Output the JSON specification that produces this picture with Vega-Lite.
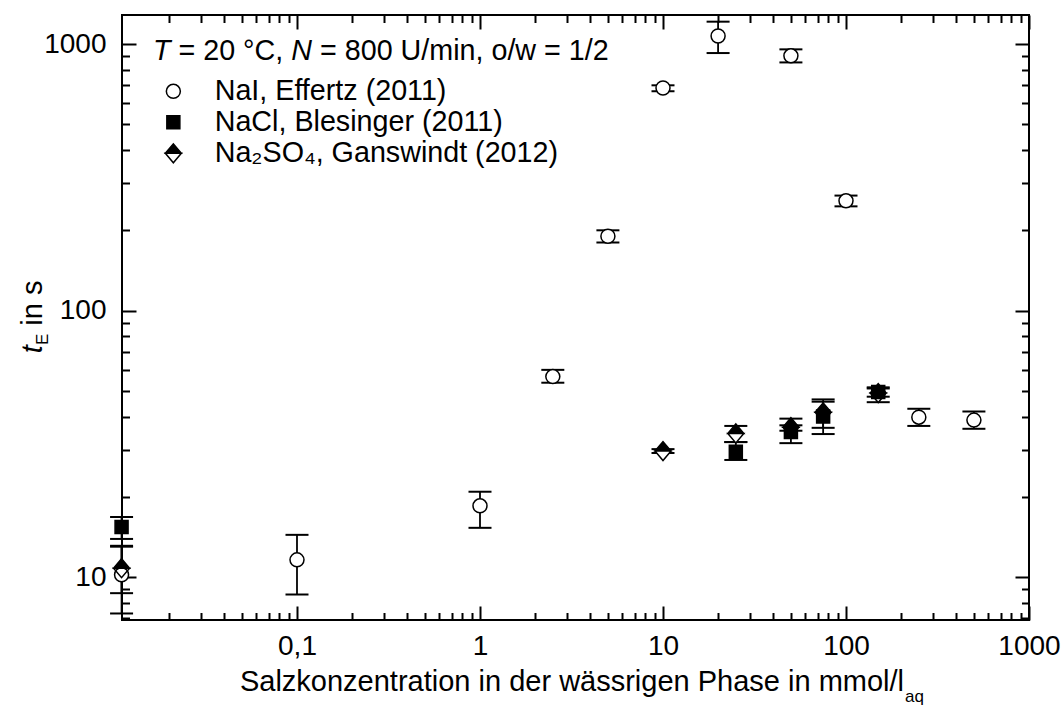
{
 "$schema": "https://vega.github.io/schema/vega-lite/v6.json",
 "width": 907,
 "height": 605,
 "autosize": {"type": "none"},
 "padding": {"left": 122, "top": 15, "right": 34, "bottom": 89},
 "background": "white",
 "config": {
  "font": "Liberation Sans",
  "view": {"stroke": "black", "strokeWidth": 2},
  "axis": {"domain": false, "grid": false, "tickColor": "black", "tickWidth": 2, "labelColor": "black", "labelFont": "Liberation Sans", "labelFontSize": 28, "title": null, "labelOverlap": false, "labelBound": false, "labelFlush": false},
  "legend": {"orient": "none", "legendX": 37, "legendY": 62, "padding": 0, "title": null, "labelFont": "Liberation Sans", "labelFontSize": 28.7, "labelColor": "black", "symbolSize": 400, "labelOffset": 27, "rowPadding": 1, "labelLimit": 600}
 },
 "data": {"values": [
  {"salt": "NaI, Effertz (2011)", "c": 0.011, "t": 10.2, "lo": 7.3, "hi": 13.0},
  {"salt": "NaI, Effertz (2011)", "c": 0.1, "t": 11.6, "lo": 8.6, "hi": 14.4},
  {"salt": "NaI, Effertz (2011)", "c": 1, "t": 18.5, "lo": 15.3, "hi": 20.9},
  {"salt": "NaI, Effertz (2011)", "c": 2.5, "t": 56.5, "lo": 53.6, "hi": 59.9},
  {"salt": "NaI, Effertz (2011)", "c": 5, "t": 190, "lo": 180, "hi": 200},
  {"salt": "NaI, Effertz (2011)", "c": 10, "t": 684, "lo": 665, "hi": 700},
  {"salt": "NaI, Effertz (2011)", "c": 20, "t": 1072, "lo": 925, "hi": 1213},
  {"salt": "NaI, Effertz (2011)", "c": 50, "t": 903, "lo": 853, "hi": 955},
  {"salt": "NaI, Effertz (2011)", "c": 100, "t": 258, "lo": 246, "hi": 270},
  {"salt": "NaI, Effertz (2011)", "c": 250, "t": 39.8, "lo": 36.9, "hi": 42.8},
  {"salt": "NaI, Effertz (2011)", "c": 500, "t": 38.8, "lo": 36.0, "hi": 41.8},
  {"salt": "NaCl, Blesinger (2011)", "c": 0.011, "t": 15.4, "lo": 13.9, "hi": 16.8},
  {"salt": "NaCl, Blesinger (2011)", "c": 25, "t": 29.5, "lo": 27.5, "hi": 32.1},
  {"salt": "NaCl, Blesinger (2011)", "c": 50, "t": 35.0, "lo": 31.8, "hi": 37.1},
  {"salt": "NaCl, Blesinger (2011)", "c": 75, "t": 40.0, "lo": 34.4, "hi": 45.5},
  {"salt": "NaCl, Blesinger (2011)", "c": 150, "t": 49.5, "lo": 45.3, "hi": 51.5},
  {"salt": "Na₂SO₄, Ganswindt (2012)", "c": 0.011, "t": 10.8, "lo": 8.7, "hi": 13.1},
  {"salt": "Na₂SO₄, Ganswindt (2012)", "c": 10, "t": 29.7, "lo": 29.2, "hi": 30.2},
  {"salt": "Na₂SO₄, Ganswindt (2012)", "c": 25, "t": 34.6, "lo": 32.1, "hi": 36.9},
  {"salt": "Na₂SO₄, Ganswindt (2012)", "c": 50, "t": 36.5, "lo": 35.4, "hi": 39.3},
  {"salt": "Na₂SO₄, Ganswindt (2012)", "c": 75, "t": 41.5, "lo": 36.3, "hi": 46.4},
  {"salt": "Na₂SO₄, Ganswindt (2012)", "c": 150, "t": 49.0, "lo": 47.5, "hi": 51.0}
 ]},
 "layer": [
  {
   "mark": {"type": "rule", "color": "black", "strokeWidth": 1.8},
   "encoding": {
    "x": {"field": "c", "type": "quantitative", "scale": {"type": "log", "domain": [0.01106, 1000], "nice": false},
     "axis": {"orient": "bottom", "values": [0.1, 1, 10, 100, 1000], "tickSize": -14, "labelPadding": 26,
      "labelExpr": "datum.value == 0.1 ? '0,1' : format(datum.value, 'd')"}},
    "y": {"field": "lo", "type": "quantitative", "scale": {"type": "log", "domain": [6.9, 1285], "nice": false},
     "axis": {"orient": "left", "values": [10, 100, 1000], "tickSize": -14, "labelPadding": 30,
      "labelExpr": "format(datum.value, 'd')"}},
    "y2": {"field": "hi"}
   }
  },
  {
   "mark": {"type": "tick", "orient": "horizontal", "color": "black", "size": 23, "thickness": 2, "opacity": 1},
   "encoding": {
    "x": {"field": "c", "type": "quantitative", "scale": {"type": "log", "domain": [0.01106, 1000], "nice": false},
     "axis": {"orient": "bottom", "labels": false, "tickSize": -7.5, "values": [0.02,0.03,0.04,0.05,0.06,0.07,0.08,0.09,0.2,0.3,0.4,0.5,0.6,0.7,0.8,0.9,2,3,4,5,6,7,8,9,20,30,40,50,60,70,80,90,200,300,400,500,600,700,800,900]}},
    "y": {"field": "lo", "type": "quantitative", "scale": {"type": "log", "domain": [6.9, 1285], "nice": false},
     "axis": {"orient": "left", "labels": false, "tickSize": -7.5, "values": [7,8,9,20,30,40,50,60,70,80,90,200,300,400,500,600,700,800,900]}}
   }
  },
  {
   "mark": {"type": "tick", "orient": "horizontal", "color": "black", "size": 23, "thickness": 2, "opacity": 1},
   "encoding": {
    "x": {"field": "c", "type": "quantitative", "scale": {"type": "log", "domain": [0.01106, 1000], "nice": false},
     "axis": {"orient": "top", "labels": false, "tickSize": -14, "values": [0.1, 1, 10, 100, 1000]}},
    "y": {"field": "hi", "type": "quantitative", "scale": {"type": "log", "domain": [6.9, 1285], "nice": false},
     "axis": {"orient": "right", "labels": false, "tickSize": -14, "values": [10, 100, 1000]}}
   }
  },
  {
   "transform": [{"filter": "indexof(datum.salt, 'SO') >= 0"}],
   "mark": {"type": "point", "filled": true, "fill": "white", "strokeWidth": 0, "opacity": 1, "size": 400, "shape": "M-0.8,0L0,-0.95L0.8,0L0,0.95Z"},
   "encoding": {
    "x": {"field": "c", "type": "quantitative", "scale": {"type": "log", "domain": [0.01106, 1000], "nice": false},
     "axis": {"orient": "top", "labels": false, "tickSize": -7.5, "values": [0.02,0.03,0.04,0.05,0.06,0.07,0.08,0.09,0.2,0.3,0.4,0.5,0.6,0.7,0.8,0.9,2,3,4,5,6,7,8,9,20,30,40,50,60,70,80,90,200,300,400,500,600,700,800,900]}},
    "y": {"field": "t", "type": "quantitative", "scale": {"type": "log", "domain": [6.9, 1285], "nice": false},
     "axis": {"orient": "right", "labels": false, "tickSize": -7.5, "values": [7,8,9,20,30,40,50,60,70,80,90,200,300,400,500,600,700,800,900]}}
   }
  },
  {
   "mark": {"type": "point", "filled": true, "stroke": "black", "strokeWidth": 1.5, "opacity": 1, "size": 400},
   "encoding": {
    "x": {"field": "c", "type": "quantitative", "scale": {"type": "log", "domain": [0.01106, 1000], "nice": false}, "axis": null},
    "y": {"field": "t", "type": "quantitative", "scale": {"type": "log", "domain": [6.9, 1285], "nice": false}, "axis": null},
    "shape": {"field": "salt", "type": "nominal",
     "scale": {"domain": ["NaI, Effertz (2011)", "NaCl, Blesinger (2011)", "Na₂SO₄, Ganswindt (2012)"],
      "range": ["M-0.7,0A0.7,0.7,0,1,1,0.7,0A0.7,0.7,0,1,1,-0.7,0Z", "M-0.65,-0.65L0.65,-0.65L0.65,0.65L-0.65,0.65Z", "M-0.8,0L0,-0.95L0.8,0Z M-0.8,0L0,0.95L0.8,0Z M-0.8,0L0.8,0L0,0.95Z"]},
     "legend": {"title": null, "encode": {"symbols": {"update": {"stroke": {"value": "black"}, "strokeWidth": {"value": 1.5}, "opacity": {"value": 1}}}}}},
    "fill": {"field": "salt", "type": "nominal",
     "scale": {"domain": ["NaI, Effertz (2011)", "NaCl, Blesinger (2011)", "Na₂SO₄, Ganswindt (2012)"], "range": ["white", "black", "black"]},
     "legend": {"title": null, "encode": {"symbols": {"update": {"stroke": {"value": "black"}, "strokeWidth": {"value": 1.5}, "opacity": {"value": 1}}}}}}
   }
  },
  {
   "data": {"values": [{}]},
   "mark": {"type": "text", "text": "T", "fontStyle": "italic", "fontSize": 28.7, "align": "left", "baseline": "alphabetic", "color": "black"},
   "encoding": {"x": {"datum": 0.01633, "type": "quantitative", "axis": null}, "y": {"datum": 871, "type": "quantitative", "axis": null}}
  },
  {
   "data": {"values": [{}]},
   "mark": {"type": "text", "text": "= 20 °C,", "fontSize": 28.7, "align": "left", "baseline": "alphabetic", "color": "black"},
   "encoding": {"x": {"datum": 0.02252, "type": "quantitative", "axis": null}, "y": {"datum": 871, "type": "quantitative", "axis": null}}
  },
  {
   "data": {"values": [{}]},
   "mark": {"type": "text", "text": "N", "fontStyle": "italic", "fontSize": 28.7, "align": "left", "baseline": "alphabetic", "color": "black"},
   "encoding": {"x": {"datum": 0.09308, "type": "quantitative", "axis": null}, "y": {"datum": 871, "type": "quantitative", "axis": null}}
  },
  {
   "data": {"values": [{}]},
   "mark": {"type": "text", "text": "= 800 U/min, o/w = 1/2", "fontSize": 28.7, "align": "left", "baseline": "alphabetic", "color": "black"},
   "encoding": {"x": {"datum": 0.1336, "type": "quantitative", "axis": null}, "y": {"datum": 871, "type": "quantitative", "axis": null}}
  },
  {
   "data": {"values": [{}]},
   "mark": {"type": "text", "text": "Salzkonzentration in der wässrigen Phase in mmol/l", "fontSize": 29, "align": "right", "baseline": "alphabetic", "color": "black"},
   "encoding": {"x": {"datum": 207.6, "type": "quantitative", "axis": null}, "y": {"datum": 3.75, "type": "quantitative", "axis": null}}
  },
  {
   "data": {"values": [{}]},
   "mark": {"type": "text", "text": "aq", "fontSize": 17, "align": "left", "baseline": "alphabetic", "color": "black"},
   "encoding": {"x": {"datum": 210.1, "type": "quantitative", "axis": null}, "y": {"datum": 3.41, "type": "quantitative", "axis": null}}
  },
  {
   "data": {"values": [{}]},
   "mark": {"type": "text", "text": "t", "fontStyle": "italic", "fontSize": 29, "angle": 270, "align": "right", "baseline": "alphabetic", "color": "black"},
   "encoding": {"x": {"datum": 0.004044, "type": "quantitative", "axis": null}, "y": {"datum": 74.2, "type": "quantitative", "axis": null}}
  },
  {
   "data": {"values": [{}]},
   "mark": {"type": "text", "text": "E", "fontSize": 17, "angle": 270, "align": "left", "baseline": "alphabetic", "color": "black"},
   "encoding": {"x": {"datum": 0.004355, "type": "quantitative", "axis": null}, "y": {"datum": 74.2, "type": "quantitative", "axis": null}}
  },
  {
   "data": {"values": [{}]},
   "mark": {"type": "text", "text": "in s", "fontSize": 29, "angle": 270, "align": "left", "baseline": "alphabetic", "color": "black"},
   "encoding": {"x": {"datum": 0.004044, "type": "quantitative", "axis": null}, "y": {"datum": 87.7, "type": "quantitative", "axis": null}}
  }
 ],
 "resolve": {"axis": {"x": "independent", "y": "independent"}}
}
